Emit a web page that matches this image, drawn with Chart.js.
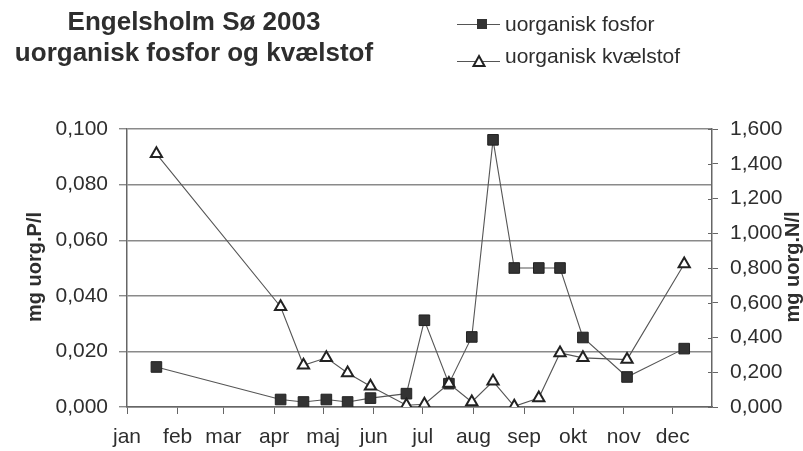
<!DOCTYPE html>
<html>
<head>
<meta charset="utf-8">
<script src="https://cdn.jsdelivr.net/npm/chart.js@4.4.1/dist/chart.umd.min.js"></script>
<style>
    html, body { margin: 0; padding: 0; background: #fff; }
    #wrap { position: relative; width: 803px; height: 451px; }
</style>
</head>
<body>
<div id="wrap"><canvas id="chart" width="803" height="451"></canvas></div>
<script>
// sampling dates 2003 and measured values
const sampleDates = ['2003-01-19', '2003-04-05', '2003-04-19', '2003-05-03', '2003-05-16', '2003-05-30',
    '2003-06-21', '2003-07-02', '2003-07-17', '2003-07-31', '2003-08-13', '2003-08-26',
    '2003-09-10', '2003-09-23', '2003-10-07', '2003-11-03', '2003-12-08'];
const fosfor = [0.0144, 0.0027, 0.0018, 0.0027, 0.0018, 0.0032,
    0.0048, 0.0312, 0.0084, 0.0252, 0.0961, 0.0500,
    0.0500, 0.0500, 0.0250, 0.0108, 0.0210];
const kvaelstof = [1.457, 0.577, 0.240, 0.283, 0.196, 0.119,
    0.010, 0.016, 0.135, 0.029, 0.148, 0.004,
    0.052, 0.311, 0.283, 0.273, 0.823];
const monthLabels = ['jan', 'feb', 'mar', 'apr', 'maj', 'jun', 'jul', 'aug', 'sep', 'okt', 'nov', 'dec'];
const axisEnd = '2003-12-25';
const leftRange = [0, 0.1, 0.02];
const rightRange = [0, 1.6, 0.2];
const titleLines = ['Engelsholm Sø 2003', 'uorganisk fosfor og kvælstof'];
const seriesNames = ['uorganisk fosfor', 'uorganisk kvælstof'];
const axisTitles = ['mg uorg.P/l', 'mg uorg.N/l'];

const FONT = '"Liberation Sans", Arial, Helvetica, sans-serif';
const TEXT = '#2e2e2e';
const AXIS = '#666';

const yearStart = Date.UTC(2003, 0, 1);
const dayOf = (s) => {
    const [y, m, d] = s.split('-').map(Number);
    return Math.round((Date.UTC(y, m - 1, d) - yearStart) / 86400000);
};
const monthStarts = monthLabels.map((_, i) => Math.round((Date.UTC(2003, i, 1) - yearStart) / 86400000));
const days = sampleDates.map(dayOf);
const comma = (v) => v.toFixed(3).replace('.', ',');

const extras = {
    id: 'extras',
    afterDraw(chart) {
        const ctx = chart.ctx;
        const area = chart.chartArea;
        ctx.save();
        ctx.fillStyle = TEXT;

        // title
        ctx.font = `bold 26px ${FONT}`;
        ctx.textAlign = 'center';
        ctx.textBaseline = 'alphabetic';
        ctx.fillText(titleLines[0], 194, 30);
        ctx.fillText(titleLines[1], 194, 61);

        // legend
        ctx.font = `21px ${FONT}`;
        ctx.textAlign = 'left';
        ctx.strokeStyle = '#555';
        ctx.lineWidth = 1.2;
        [[24, 31], [61, 63]].forEach(([ly, ty], i) => {
            ctx.beginPath();
            ctx.moveTo(457, ly + 0.5);
            ctx.lineTo(500, ly + 0.5);
            ctx.stroke();
            ctx.fillText(seriesNames[i], 505, ty);
        });
        ctx.fillStyle = '#333';
        ctx.fillRect(477, 19, 10, 10);
        ctx.beginPath();
        ctx.moveTo(479, 56);
        ctx.lineTo(484.5, 66);
        ctx.lineTo(473.5, 66);
        ctx.closePath();
        ctx.fillStyle = '#fff';
        ctx.fill();
        ctx.lineWidth = 2;
        ctx.strokeStyle = '#222';
        ctx.stroke();

        // axis titles, both reading bottom to top
        ctx.fillStyle = TEXT;
        ctx.font = `bold 20px ${FONT}`;
        ctx.textAlign = 'center';
        ctx.textBaseline = 'middle';
        const cy = (area.top + area.bottom) / 2 - 1;
        [[35, axisTitles[0]], [793, axisTitles[1]]].forEach(([x, t]) => {
            ctx.save();
            ctx.translate(x, cy);
            ctx.rotate(-Math.PI / 2);
            ctx.fillText(t, 0, 0);
            ctx.restore();
        });

        // right axis ticks cross the axis line
        const y1 = chart.scales.y1;
        ctx.strokeStyle = AXIS;
        ctx.lineWidth = 1;
        y1.ticks.forEach(t => {
            const y = Math.round(y1.getPixelForValue(t.value)) + 0.5;
            ctx.beginPath();
            ctx.moveTo(y1.left - 4, y);
            ctx.lineTo(y1.left, y);
            ctx.stroke();
        });
        ctx.restore();
    }
};

Chart.defaults.font.family = FONT;
Chart.defaults.font.size = 21;
Chart.defaults.color = TEXT;

new Chart(document.getElementById('chart'), {
    type: 'line',
    data: {
        datasets: [{
            label: seriesNames[1],
            data: days.map((d, i) => ({ x: d, y: kvaelstof[i] })),
            yAxisID: 'y1',
            order: 0,
            borderColor: '#555',
            borderWidth: 1.1,
            pointStyle: 'triangle',
            pointRadius: 6.5,
            pointBorderWidth: 2,
            pointBorderColor: '#222',
            pointBackgroundColor: '#fff',
            tension: 0,
            fill: false
        }, {
            label: seriesNames[0],
            data: days.map((d, i) => ({ x: d, y: fosfor[i] })),
            yAxisID: 'y',
            order: 1,
            borderColor: '#555',
            borderWidth: 1.1,
            pointStyle: 'rect',
            pointRadius: 7.5,
            pointBorderWidth: 1,
            pointBorderColor: '#222',
            pointBackgroundColor: '#333',
            tension: 0,
            fill: false
        }]
    },
    options: {
        responsive: false,
        animation: false,
        events: [],
        layout: {
            padding: { top: 129, right: 0, bottom: 0, left: 0 }
        },
        plugins: {
            legend: { display: false },
            title: { display: false },
            tooltip: { enabled: false }
        },
        scales: {
            x: {
                type: 'linear',
                min: 0,
                max: dayOf(axisEnd),
                afterBuildTicks: (scale) => {
                    scale.ticks = monthStarts.map(v => ({ value: v }));
                },
                afterFit: (scale) => { scale.height = 44; },
                ticks: {
                    autoSkip: false,
                    maxRotation: 0,
                    padding: 11,
                    callback: (v) => monthLabels[monthStarts.indexOf(v)]
                },
                grid: {
                    drawOnChartArea: false,
                    color: AXIS,
                    tickLength: 7
                },
                border: { color: AXIS, width: 1.5 }
            },
            y: {
                position: 'left',
                min: leftRange[0],
                max: leftRange[1],
                afterFit: (scale) => { scale.width = 127; },
                ticks: {
                    stepSize: leftRange[2],
                    padding: 11,
                    callback: (v) => comma(v)
                },
                grid: {
                    color: '#8a8a8a',
                    lineWidth: 1.4,
                    tickLength: 8
                },
                border: { color: AXIS, width: 1.5 }
            },
            y1: {
                position: 'right',
                min: rightRange[0],
                max: rightRange[1],
                afterFit: (scale) => { scale.width = 91; },
                ticks: {
                    stepSize: rightRange[2],
                    padding: 12,
                    callback: (v) => comma(v)
                },
                grid: {
                    drawOnChartArea: false,
                    color: AXIS,
                    tickLength: 6
                },
                border: { color: AXIS, width: 1.5 }
            }
        }
    },
    plugins: [extras]
});
</script>
</body>
</html>
